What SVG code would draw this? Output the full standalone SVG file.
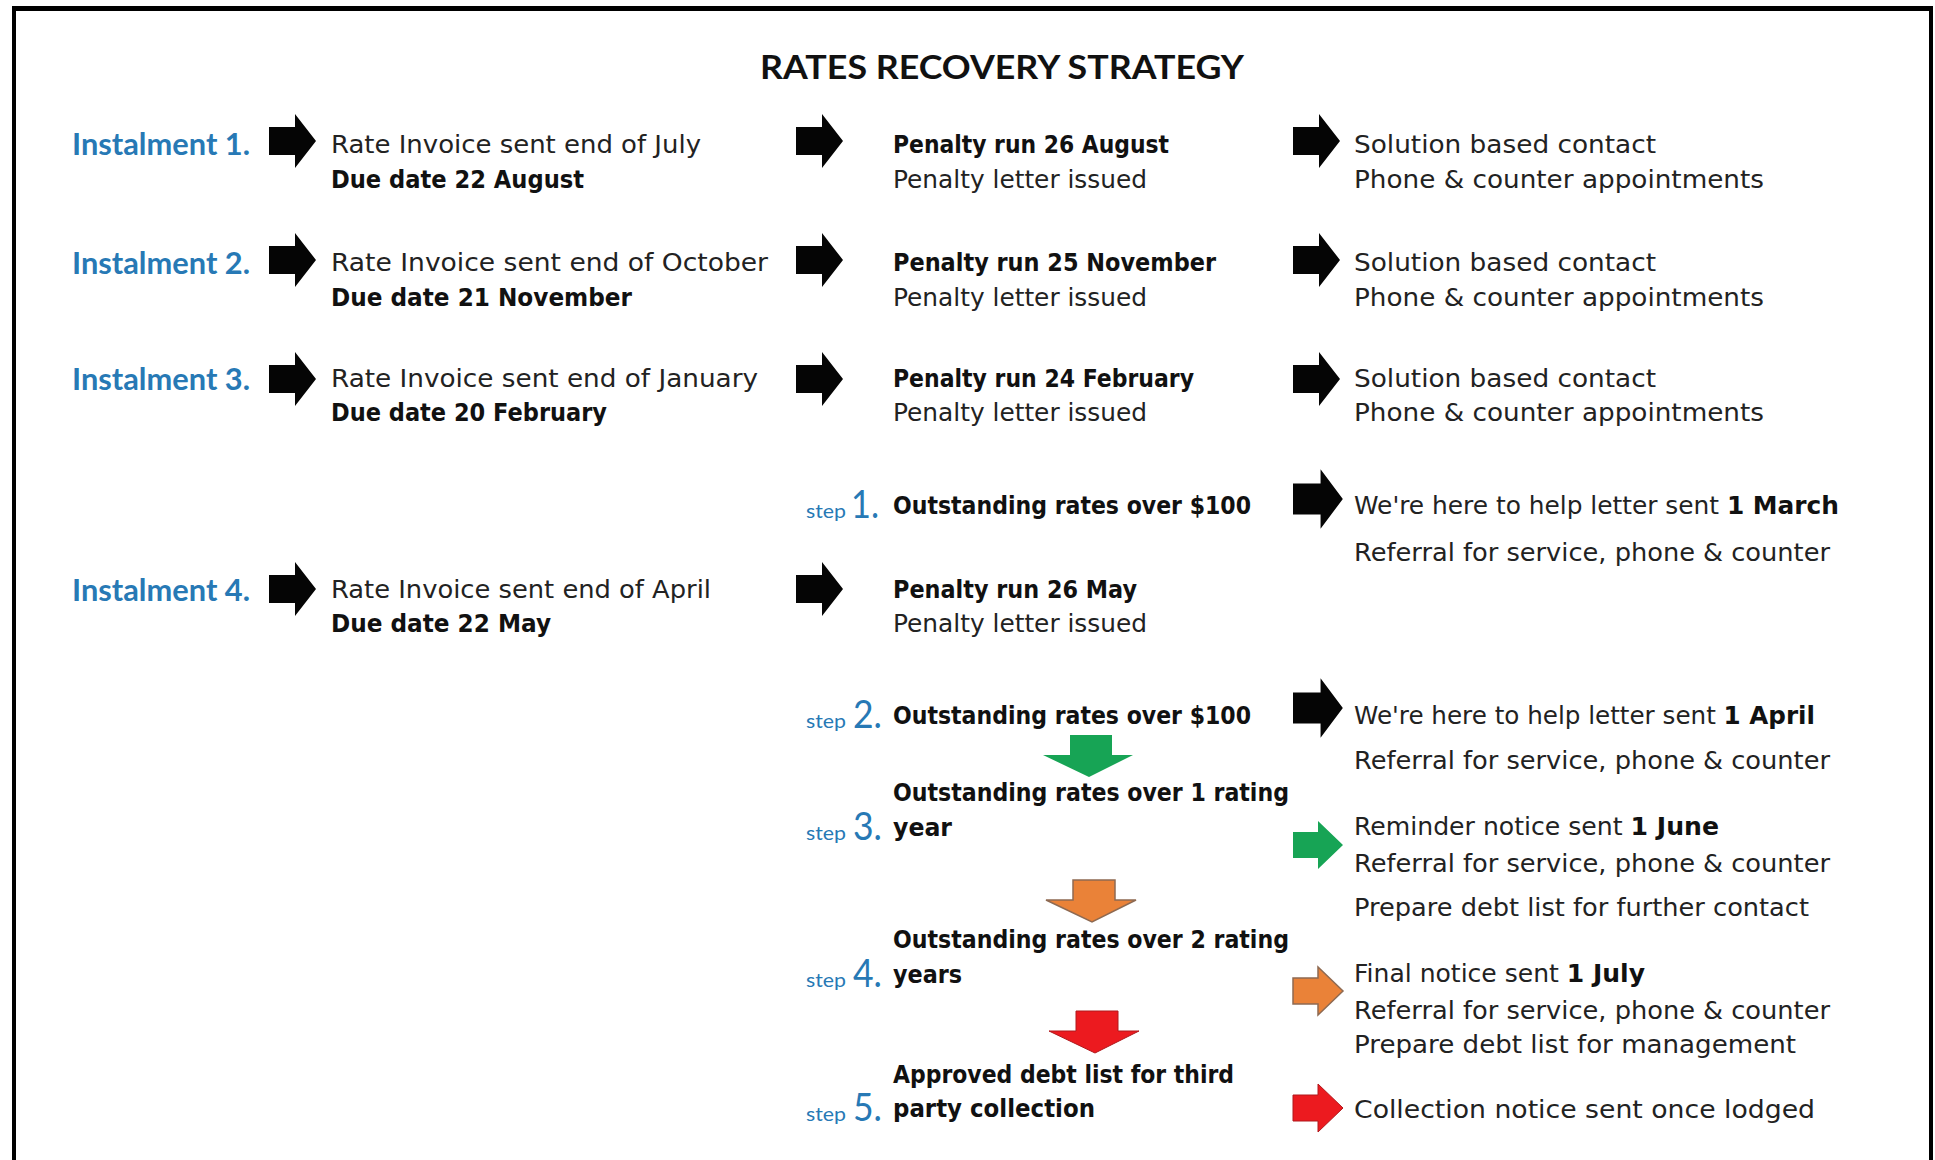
<svg xmlns="http://www.w3.org/2000/svg" width="1935" height="1160" viewBox="0 0 1935 1160">
  <style>
    .t { font-family: "DejaVu Sans", "Liberation Sans", sans-serif; font-size: 24px; fill: #222; }
    .b { font-weight: bold; fill: #111; }
    .inst { font-family: Lato, "Liberation Sans", sans-serif; font-weight: bold; font-size: 30px; fill: #2779b5; }
    .title { font-family: Lato, "Liberation Sans", sans-serif; font-weight: bold; font-size: 33px; fill: #111; }
    .sw { font-family: Lato, "Liberation Sans", sans-serif; font-size: 20px; fill: #2779b5; }
    .sn { font-family: Lato, "Liberation Sans", sans-serif; font-size: 38px; fill: #2779b5; }
    .blk { fill: #050505; }
    .grn { fill: #17a455; }
    .org { fill: #ea8238; stroke: #8e6a52; stroke-width: 1.5; }
    .red { fill: #ec1a1f; stroke: #b0181c; stroke-width: 1; }
  </style>
  <defs>
    <!-- right-pointing block arrow, tip at (47,0) -->
    <path id="arrowR" d="M0,-14 H26 V-27 L47,0 L26,27 V14 H0 Z"/>
    <!-- smaller coloured right arrow, tip at (50,0) -->
    <path id="arrowRc" d="M0,-13 H25 V-24 L50,0 L25,24 V13 H0 Z"/>
    <!-- down-pointing wide arrow, tip at (46,42) -->
    <path id="arrowD" d="M27,0 H69 V20 H90 L46,42 L0,20 H27 Z"/>
  </defs>

  <rect width="1935" height="1160" fill="#fff"/>

  <!-- page frame -->
  <g id="frame" fill="#000">
    <rect x="12" y="6" width="1921" height="5"/>
    <rect x="12" y="6" width="4" height="1154"/>
    <rect x="1929" y="6" width="4" height="1154"/>
  </g>

  <text class="title" x="760" y="79" textLength="484" lengthAdjust="spacingAndGlyphs">RATES RECOVERY STRATEGY</text>

  <!-- instalment labels -->
  <g id="instalment-1"><text class="inst" x="72" y="155" textLength="178" lengthAdjust="spacingAndGlyphs">Instalment 1.</text></g>
  <g id="instalment-2"><text class="inst" x="72" y="274" textLength="178" lengthAdjust="spacingAndGlyphs">Instalment 2.</text></g>
  <g id="instalment-3"><text class="inst" x="72" y="390" textLength="178" lengthAdjust="spacingAndGlyphs">Instalment 3.</text></g>
  <g id="instalment-4"><text class="inst" x="72" y="601" textLength="178" lengthAdjust="spacingAndGlyphs">Instalment 4.</text></g>

  <!-- invoices -->
  <g id="invoice-1">
    <text class="t" x="331" y="153" textLength="370" lengthAdjust="spacingAndGlyphs">Rate Invoice sent end of July</text>
    <text class="t b" x="331" y="188" textLength="253" lengthAdjust="spacingAndGlyphs">Due date 22 August</text>
  </g>
  <g id="invoice-2">
    <text class="t" x="331" y="271" textLength="437" lengthAdjust="spacingAndGlyphs">Rate Invoice sent end of October</text>
    <text class="t b" x="331" y="306" textLength="301" lengthAdjust="spacingAndGlyphs">Due date 21 November</text>
  </g>
  <g id="invoice-3">
    <text class="t" x="331" y="387" textLength="427" lengthAdjust="spacingAndGlyphs">Rate Invoice sent end of January</text>
    <text class="t b" x="331" y="421" textLength="276" lengthAdjust="spacingAndGlyphs">Due date 20 February</text>
  </g>
  <g id="invoice-4">
    <text class="t" x="331" y="598" textLength="380" lengthAdjust="spacingAndGlyphs">Rate Invoice sent end of April</text>
    <text class="t b" x="331" y="632" textLength="220" lengthAdjust="spacingAndGlyphs">Due date 22 May</text>
  </g>

  <!-- penalty runs -->
  <g id="penalty-1">
    <text class="t b" x="893" y="153" textLength="276" lengthAdjust="spacingAndGlyphs">Penalty run 26 August</text>
    <text class="t" x="893" y="188" textLength="254" lengthAdjust="spacingAndGlyphs">Penalty letter issued</text>
  </g>
  <g id="penalty-2">
    <text class="t b" x="893" y="271" textLength="323" lengthAdjust="spacingAndGlyphs">Penalty run 25 November</text>
    <text class="t" x="893" y="306" textLength="254" lengthAdjust="spacingAndGlyphs">Penalty letter issued</text>
  </g>
  <g id="penalty-3">
    <text class="t b" x="893" y="387" textLength="301" lengthAdjust="spacingAndGlyphs">Penalty run 24 February</text>
    <text class="t" x="893" y="421" textLength="254" lengthAdjust="spacingAndGlyphs">Penalty letter issued</text>
  </g>
  <g id="penalty-4">
    <text class="t b" x="893" y="598" textLength="244" lengthAdjust="spacingAndGlyphs">Penalty run 26 May</text>
    <text class="t" x="893" y="632" textLength="254" lengthAdjust="spacingAndGlyphs">Penalty letter issued</text>
  </g>

  <!-- contact actions -->
  <g id="contact-1">
    <text class="t" x="1354" y="153" textLength="302" lengthAdjust="spacingAndGlyphs">Solution based contact</text>
    <text class="t" x="1354" y="188" textLength="410" lengthAdjust="spacingAndGlyphs">Phone &amp; counter appointments</text>
  </g>
  <g id="contact-2">
    <text class="t" x="1354" y="271" textLength="302" lengthAdjust="spacingAndGlyphs">Solution based contact</text>
    <text class="t" x="1354" y="306" textLength="410" lengthAdjust="spacingAndGlyphs">Phone &amp; counter appointments</text>
  </g>
  <g id="contact-3">
    <text class="t" x="1354" y="387" textLength="302" lengthAdjust="spacingAndGlyphs">Solution based contact</text>
    <text class="t" x="1354" y="421" textLength="410" lengthAdjust="spacingAndGlyphs">Phone &amp; counter appointments</text>
  </g>

  <!-- recovery steps -->
  <g id="step-1">
    <text class="sw" x="806" y="518" textLength="40" lengthAdjust="spacingAndGlyphs">step</text>
    <text class="sn" x="851" y="518" textLength="28" lengthAdjust="spacingAndGlyphs">1.</text>
    <text class="t b" x="893" y="514" textLength="358" lengthAdjust="spacingAndGlyphs">Outstanding rates over $100</text>
  </g>
  <g id="step-1-action">
    <text class="t" x="1354" y="514" textLength="485" lengthAdjust="spacingAndGlyphs">We're here to help letter sent <tspan class="b">1 March</tspan></text>
    <text class="t" x="1354" y="561" textLength="476" lengthAdjust="spacingAndGlyphs">Referral for service, phone &amp; counter</text>
  </g>

  <g id="step-2">
    <text class="sw" x="806" y="728" textLength="40" lengthAdjust="spacingAndGlyphs">step</text>
    <text class="sn" x="853" y="728" textLength="29" lengthAdjust="spacingAndGlyphs">2.</text>
    <text class="t b" x="893" y="724" textLength="358" lengthAdjust="spacingAndGlyphs">Outstanding rates over $100</text>
  </g>
  <g id="step-2-action">
    <text class="t" x="1354" y="724" textLength="461" lengthAdjust="spacingAndGlyphs">We're here to help letter sent <tspan class="b">1 April</tspan></text>
    <text class="t" x="1354" y="769" textLength="476" lengthAdjust="spacingAndGlyphs">Referral for service, phone &amp; counter</text>
  </g>

  <g id="step-3">
    <text class="t b" x="893" y="801" textLength="396" lengthAdjust="spacingAndGlyphs">Outstanding rates over 1 rating</text>
    <text class="sw" x="806" y="840" textLength="40" lengthAdjust="spacingAndGlyphs">step</text>
    <text class="sn" x="853" y="840" textLength="29" lengthAdjust="spacingAndGlyphs">3.</text>
    <text class="t b" x="893" y="836" textLength="59" lengthAdjust="spacingAndGlyphs">year</text>
  </g>
  <g id="step-3-action">
    <text class="t" x="1354" y="835" textLength="365" lengthAdjust="spacingAndGlyphs">Reminder notice sent <tspan class="b">1 June</tspan></text>
    <text class="t" x="1354" y="872" textLength="476" lengthAdjust="spacingAndGlyphs">Referral for service, phone &amp; counter</text>
    <text class="t" x="1354" y="916" textLength="455" lengthAdjust="spacingAndGlyphs">Prepare debt list for further contact</text>
  </g>

  <g id="step-4">
    <text class="t b" x="893" y="948" textLength="396" lengthAdjust="spacingAndGlyphs">Outstanding rates over 2 rating</text>
    <text class="sw" x="806" y="987" textLength="40" lengthAdjust="spacingAndGlyphs">step</text>
    <text class="sn" x="853" y="987" textLength="29" lengthAdjust="spacingAndGlyphs">4.</text>
    <text class="t b" x="893" y="983" textLength="69" lengthAdjust="spacingAndGlyphs">years</text>
  </g>
  <g id="step-4-action">
    <text class="t" x="1354" y="982" textLength="291" lengthAdjust="spacingAndGlyphs">Final notice sent <tspan class="b">1 July</tspan></text>
    <text class="t" x="1354" y="1019" textLength="476" lengthAdjust="spacingAndGlyphs">Referral for service, phone &amp; counter</text>
    <text class="t" x="1354" y="1053" textLength="442" lengthAdjust="spacingAndGlyphs">Prepare debt list for management</text>
  </g>

  <g id="step-5">
    <text class="t b" x="893" y="1083" textLength="341" lengthAdjust="spacingAndGlyphs">Approved debt list for third</text>
    <text class="sw" x="806" y="1121" textLength="40" lengthAdjust="spacingAndGlyphs">step</text>
    <text class="sn" x="853" y="1121" textLength="29" lengthAdjust="spacingAndGlyphs">5.</text>
    <text class="t b" x="893" y="1117" textLength="202" lengthAdjust="spacingAndGlyphs">party collection</text>
  </g>
  <g id="step-5-action">
    <text class="t" x="1354" y="1118" textLength="461" lengthAdjust="spacingAndGlyphs">Collection notice sent once lodged</text>
  </g>

  <!-- connectors: block arrows between columns and between steps -->
  <g id="connectors">
    <use href="#arrowR" class="blk" transform="translate(269,141)"/>
    <use href="#arrowR" class="blk" transform="translate(269,260)"/>
    <use href="#arrowR" class="blk" transform="translate(269,379)"/>
    <use href="#arrowR" class="blk" transform="translate(269,589)"/>

    <use href="#arrowR" class="blk" transform="translate(796,141)"/>
    <use href="#arrowR" class="blk" transform="translate(796,260)"/>
    <use href="#arrowR" class="blk" transform="translate(796,379)"/>
    <use href="#arrowR" class="blk" transform="translate(796,589)"/>

    <use href="#arrowR" class="blk" transform="translate(1293,141)"/>
    <use href="#arrowR" class="blk" transform="translate(1293,260)"/>
    <use href="#arrowR" class="blk" transform="translate(1293,379)"/>
    <use href="#arrowR" class="blk" transform="translate(1293,499) scale(1.06,1.1)"/>
    <use href="#arrowR" class="blk" transform="translate(1293,708) scale(1.06,1.1)"/>

    <use href="#arrowD" class="grn" transform="translate(1043,735)"/>
    <use href="#arrowD" class="org" transform="translate(1046,880)"/>
    <use href="#arrowD" class="red" transform="translate(1049,1011)"/>

    <use href="#arrowRc" class="grn" transform="translate(1293,845)"/>
    <use href="#arrowRc" class="org" transform="translate(1293,991)"/>
    <use href="#arrowRc" class="red" transform="translate(1293,1108)"/>
  </g>
</svg>
